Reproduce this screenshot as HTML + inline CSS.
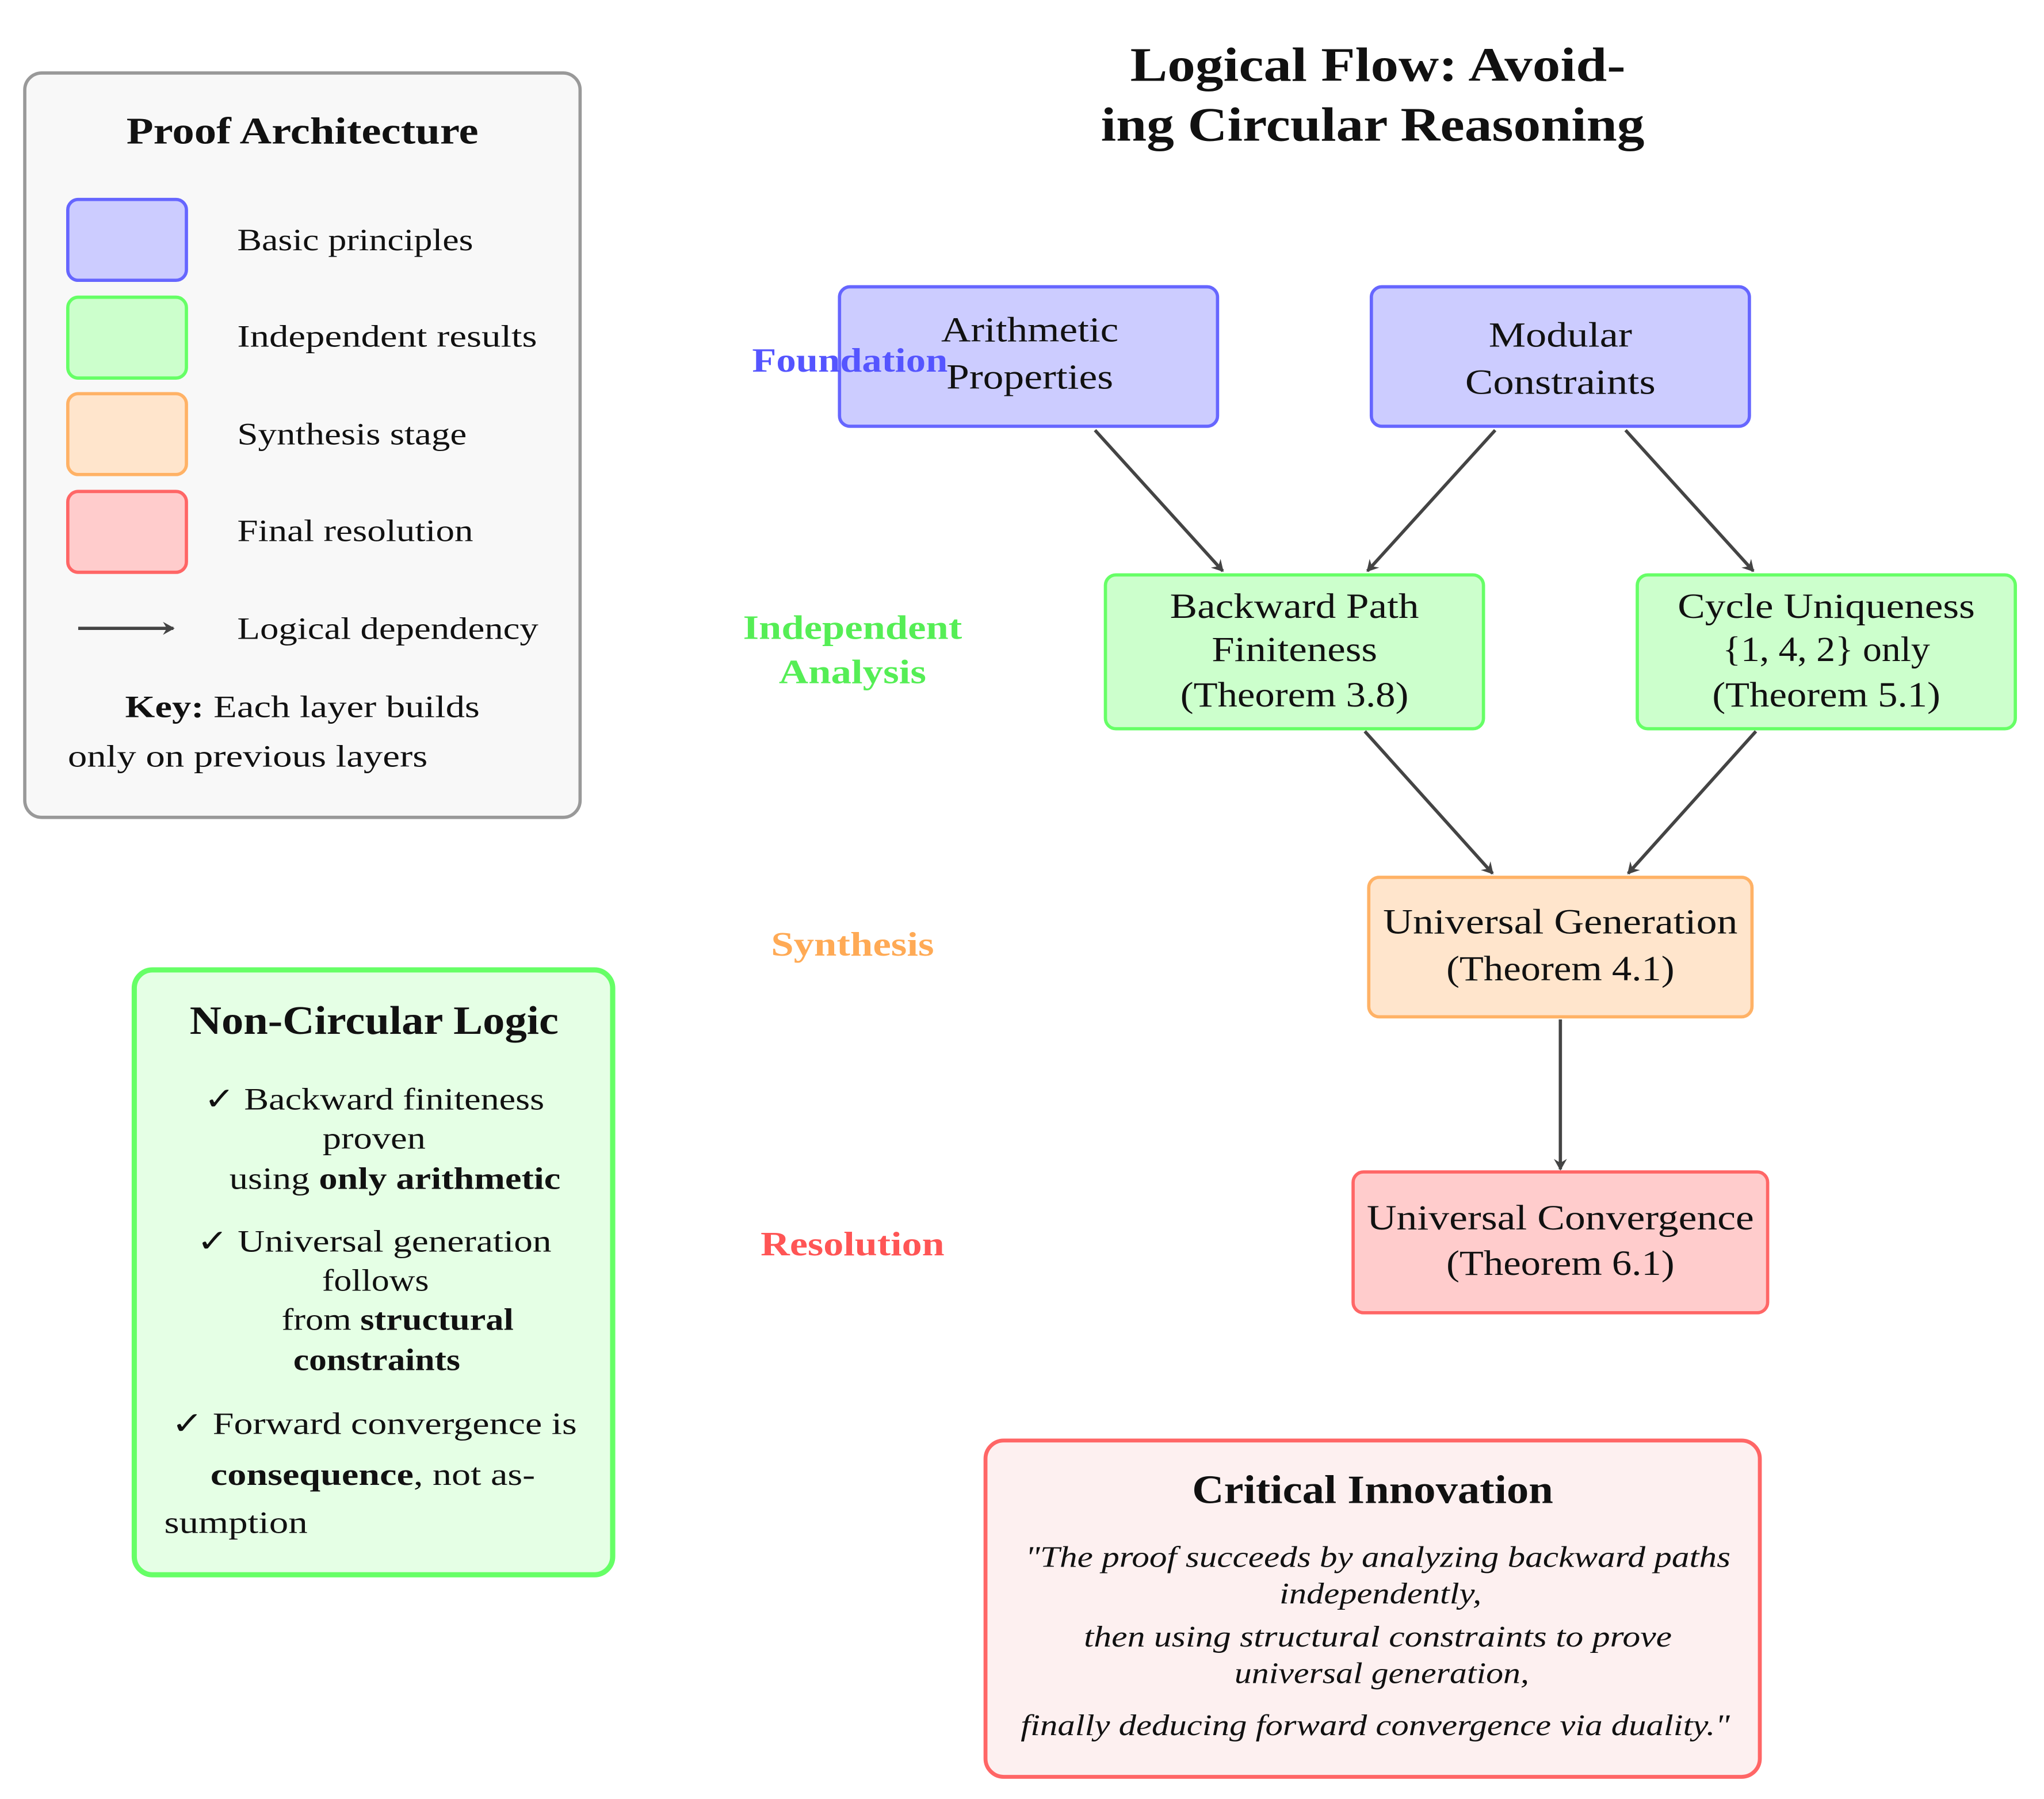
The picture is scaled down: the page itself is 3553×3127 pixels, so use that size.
<!DOCTYPE html>
<html><head><meta charset="utf-8"><style>html,body{margin:0;padding:0;background:#fff}svg{display:block}text{font-family:"Liberation Serif",serif;fill:#111}</style></head>
<body>
<svg width="3553" height="3127" viewBox="0 0 1568 1380" xmlns="http://www.w3.org/2000/svg">
<defs><marker id="a" markerWidth="10" markerHeight="10" refX="8" refY="5" orient="auto" markerUnits="userSpaceOnUse"><path d="M0,0 L9,5 L0,10 L3,5 z" fill="#444"/></marker></defs>
<rect x="19" y="56" width="426" height="571" rx="13" fill="#f8f8f8" stroke="#999" stroke-width="2.5"/>
<text x="232" y="110" font-size="29" font-weight="bold" text-anchor="middle" textLength="270" lengthAdjust="spacingAndGlyphs">Proof Architecture</text>
<rect x="52" y="153" width="91" height="62" rx="8" fill="#ccccff" stroke="#6666ff" stroke-width="2.5"/>
<rect x="52" y="228" width="91" height="62" rx="8" fill="#ccffcc" stroke="#66ff66" stroke-width="2.5"/>
<rect x="52" y="302" width="91" height="62" rx="8" fill="#ffe5cc" stroke="#ffb266" stroke-width="2.5"/>
<rect x="52" y="377" width="91" height="62" rx="8" fill="#ffcccc" stroke="#ff6666" stroke-width="2.5"/>
<g font-size="24"><text x="182" y="192" textLength="181" lengthAdjust="spacingAndGlyphs">Basic principles</text><text x="182" y="266" textLength="230" lengthAdjust="spacingAndGlyphs">Independent results</text><text x="182" y="341" textLength="176" lengthAdjust="spacingAndGlyphs">Synthesis stage</text><text x="182" y="415" textLength="181" lengthAdjust="spacingAndGlyphs">Final resolution</text><text x="182" y="490" textLength="231" lengthAdjust="spacingAndGlyphs">Logical dependency</text></g>
<line x1="60" y1="482" x2="133" y2="482" stroke="#444" stroke-width="2.5" marker-end="url(#a)"/>
<text x="232" y="550" font-size="24" text-anchor="middle" textLength="272" lengthAdjust="spacingAndGlyphs"><tspan font-weight="bold">Key:</tspan> Each layer builds</text>
<text x="52" y="588" font-size="24" textLength="276" lengthAdjust="spacingAndGlyphs">only on previous layers</text>

<g font-size="37" font-weight="bold" text-anchor="middle"><text x="1057" y="62" textLength="380" lengthAdjust="spacingAndGlyphs">Logical Flow: Avoid-</text><text x="1053" y="108" textLength="417" lengthAdjust="spacingAndGlyphs">ing Circular Reasoning</text></g>

<g stroke="#444" stroke-width="2.5" marker-end="url(#a)">
<line x1="840" y1="330" x2="938" y2="438"/><line x1="1147" y1="330" x2="1049" y2="438"/><line x1="1247" y1="330" x2="1345" y2="438"/>
<line x1="1047" y1="561" x2="1145" y2="670"/><line x1="1347" y1="561" x2="1249" y2="670"/><line x1="1197" y1="782" x2="1197" y2="897"/>
</g>

<rect x="644" y="220" width="290" height="107" rx="8" fill="#ccccff" stroke="#6666ff" stroke-width="2.5"/>
<rect x="1052" y="220" width="290" height="107" rx="8" fill="#ccccff" stroke="#6666ff" stroke-width="2.5"/>
<rect x="848" y="441" width="290" height="118" rx="8" fill="#ccffcc" stroke="#66ff66" stroke-width="2.5"/>
<rect x="1256" y="441" width="290" height="118" rx="8" fill="#ccffcc" stroke="#66ff66" stroke-width="2.5"/>
<rect x="1050" y="673" width="294" height="107" rx="8" fill="#ffe5cc" stroke="#ffb266" stroke-width="2.5"/>
<rect x="1038" y="899" width="318" height="108" rx="8" fill="#ffcccc" stroke="#ff6666" stroke-width="2.5"/>
<g font-size="27" text-anchor="middle">
<text x="790" y="262" textLength="136" lengthAdjust="spacingAndGlyphs">Arithmetic</text><text x="790" y="298" textLength="128" lengthAdjust="spacingAndGlyphs">Properties</text>
<text x="1197" y="266" textLength="110" lengthAdjust="spacingAndGlyphs">Modular</text><text x="1197" y="302" textLength="146" lengthAdjust="spacingAndGlyphs">Constraints</text>
<text x="993" y="474" textLength="191" lengthAdjust="spacingAndGlyphs">Backward Path</text><text x="993" y="507" textLength="127" lengthAdjust="spacingAndGlyphs">Finiteness</text><text x="993" y="542" textLength="175" lengthAdjust="spacingAndGlyphs">(Theorem 3.8)</text>
<text x="1401" y="474" textLength="228" lengthAdjust="spacingAndGlyphs">Cycle Uniqueness</text><text x="1401" y="507" textLength="159" lengthAdjust="spacingAndGlyphs">{1, 4, 2} only</text><text x="1401" y="542" textLength="175" lengthAdjust="spacingAndGlyphs">(Theorem 5.1)</text>
<text x="1197" y="716" textLength="272" lengthAdjust="spacingAndGlyphs">Universal Generation</text><text x="1197" y="752" textLength="175" lengthAdjust="spacingAndGlyphs">(Theorem 4.1)</text>
<text x="1197" y="943" textLength="297" lengthAdjust="spacingAndGlyphs">Universal Convergence</text><text x="1197" y="978" textLength="175" lengthAdjust="spacingAndGlyphs">(Theorem 6.1)</text>
</g>
<g font-size="26" font-weight="bold" text-anchor="middle">
<text x="652" y="285" style="fill:#5555ff" textLength="150" lengthAdjust="spacingAndGlyphs">Foundation</text>
<text x="654" y="490" style="fill:#55ee55" textLength="168" lengthAdjust="spacingAndGlyphs">Independent</text><text x="654" y="524" style="fill:#55ee55" textLength="113" lengthAdjust="spacingAndGlyphs">Analysis</text>
<text x="654" y="733" style="fill:#ffaa55" textLength="125" lengthAdjust="spacingAndGlyphs">Synthesis</text>
<text x="654" y="963" style="fill:#ff5555" textLength="141" lengthAdjust="spacingAndGlyphs">Resolution</text>
</g>

<rect x="103" y="744" width="367" height="464" rx="14" fill="#e5ffe5" stroke="#66ff66" stroke-width="4"/>
<text x="287" y="793" font-size="31" font-weight="bold" text-anchor="middle" textLength="283" lengthAdjust="spacingAndGlyphs">Non-Circular Logic</text>
<g font-size="24" text-anchor="middle">
<text x="287" y="851" textLength="261" lengthAdjust="spacingAndGlyphs">✓ Backward finiteness</text><text x="287" y="881" textLength="79" lengthAdjust="spacingAndGlyphs">proven</text>
<text x="303" y="912" textLength="254" lengthAdjust="spacingAndGlyphs">using <tspan font-weight="bold">only arithmetic</tspan></text>
<text x="287" y="960" textLength="272" lengthAdjust="spacingAndGlyphs">✓ Universal generation</text><text x="288" y="990" textLength="82" lengthAdjust="spacingAndGlyphs">follows</text>
<text x="305" y="1020" textLength="178" lengthAdjust="spacingAndGlyphs">from <tspan font-weight="bold">structural</tspan></text><text x="289" y="1051" font-weight="bold" textLength="128" lengthAdjust="spacingAndGlyphs">constraints</text>
<text x="287" y="1100" textLength="311" lengthAdjust="spacingAndGlyphs">✓ Forward convergence is</text>
<text x="286" y="1139" textLength="249" lengthAdjust="spacingAndGlyphs"><tspan font-weight="bold">consequence</tspan>, not as-</text>
</g>
<text x="126" y="1176" font-size="24" textLength="110" lengthAdjust="spacingAndGlyphs">sumption</text>

<rect x="756" y="1105" width="594" height="258" rx="14" fill="#fdf0f0" stroke="#ff6666" stroke-width="3"/>
<text x="1053" y="1153" font-size="31" font-weight="bold" text-anchor="middle" textLength="277" lengthAdjust="spacingAndGlyphs">Critical Innovation</text>
<g font-size="23" font-style="italic" text-anchor="middle">
<text x="1057" y="1202" textLength="541" lengthAdjust="spacingAndGlyphs">"The proof succeeds by analyzing backward paths</text>
<text x="1059" y="1230" textLength="155" lengthAdjust="spacingAndGlyphs">independently,</text>
<text x="1057" y="1263" textLength="451" lengthAdjust="spacingAndGlyphs">then using structural constraints to prove</text>
<text x="1060" y="1291" textLength="226" lengthAdjust="spacingAndGlyphs">universal generation,</text>
<text x="1055" y="1331" textLength="544" lengthAdjust="spacingAndGlyphs">finally deducing forward convergence via duality."</text>
</g>
</svg>
</body></html>
